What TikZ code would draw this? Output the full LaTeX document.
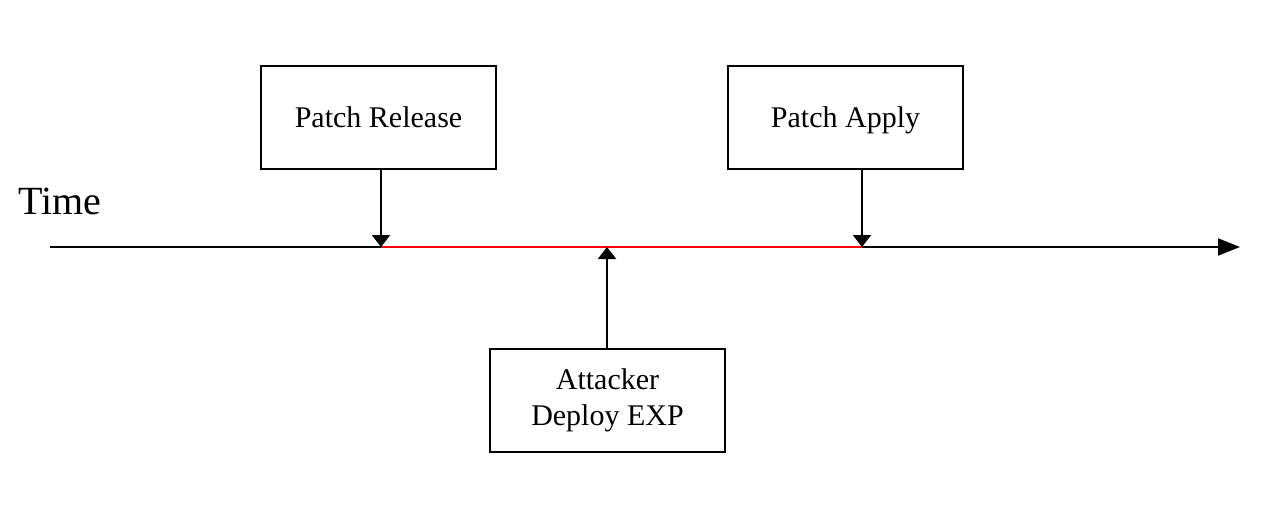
\documentclass[tikz,border=0pt]{standalone}
\usepackage{fontspec}
\setmainfont{Liberation Serif}
\usetikzlibrary{arrows.meta}
\begin{document}
\begin{tikzpicture}[x=1pt,y=-1pt,
  evbox/.style={draw,line width=2pt,minimum width=235pt,minimum height=103pt,inner sep=0pt,font=\fontsize{30}{36}\selectfont,align=center},
  oneline/.style={text height=24pt,text depth=5pt},
  evarrow/.style={line width=2pt,-{Triangle[length=12pt,width=18pt]}},
  axis/.style={line width=2pt,-{Triangle[length=22pt,width=17pt]}}]
\useasboundingbox (0,0) rectangle (1277,506);
\node[evbox,oneline] (rel) at (378.5,117.5) {Patch Release};
\node[evbox,oneline] (app) at (845.5,117.5) {Patch Apply};
\node[evbox] (att) at (607.5,400.5) {\raisebox{-2pt}{Attacker}\\\raisebox{-2pt}{Deploy EXP}};
\node[font=\fontsize{40}{48}\selectfont] (time) at (60,201) {Time};
\coordinate (start) at (50,247);
\coordinate (end) at (1240,247);
\coordinate (p1) at (381,247);
\coordinate (p2) at (862,247);
\coordinate (p3) at (607,247);
\draw[axis] (start) -- (end);
\draw[red,line width=2.5pt] (p1) -- (p2);
\draw[evarrow] (rel.south -| p1) -- (p1);
\draw[evarrow] (app.south -| p2) -- (p2);
\draw[evarrow] (att.north -| p3) -- (p3);
\end{tikzpicture}
\end{document}
